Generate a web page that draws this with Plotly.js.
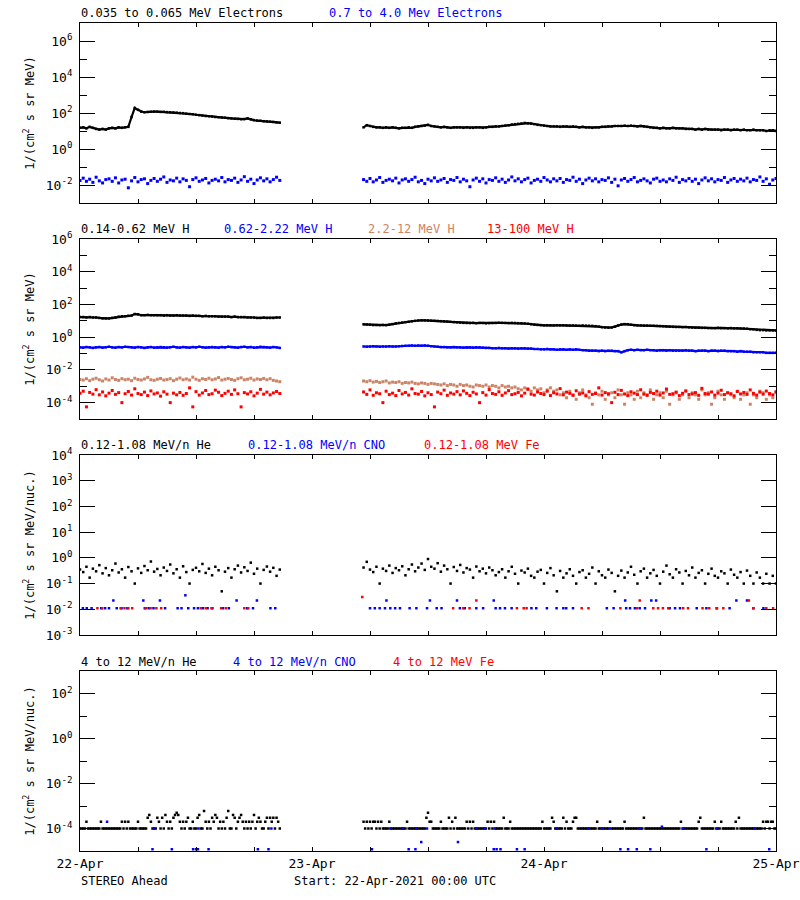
<!DOCTYPE html>
<html><head><meta charset="utf-8">
<script src="https://cdn.plot.ly/plotly-3.0.1.min.js"></script>
<style>html,body{margin:0;padding:0;background:#fff}</style>
</head><body><div id="chart" style="width:800px;height:900px"></div>
<script>
// ---- time sampling (hours since 22-Apr-2021 00:00 UTC) ----
const SEG1_START = 0;            // 22-Apr 00:00
const SEG2_START = 29 + 20/60;   // 23-Apr 05:20
const STEP = 20/60;              // 20-minute samples
const STEP_FINE = 10/60;         // 10-minute samples (panel 4 He)
const GAP_HOUR = 25;

// ---- Panel 1: electrons ----
const eLoSeg1 = [15,16,14,17,15,13,12,13,12,14,15,14,16,15,16,17,60,190,150,120,110,115,118,120,118,115,117,112,110,108,105,100,98,92,88,85,80,76,72,68,66,64,60,58,56,55,52,50,48,47,45,46,50,44,40,38,37,35,34,33,32,30,29];
const eLoSeg2 = [16,21,19,17,16,16,15,16,15,16,15,14,15,15,16,15,17,18,19,20,22,19,18,17,16,17,16,15,16,16,16,15,16,15,15,16,16,15,16,17,17,18,18,19,20,21,23,24,25,26,28,27,26,24,22,21,20,19,18,18,18,17,18,18,17,18,17,16,17,16,16,15,16,16,17,17,18,18,19,19,19,20,19,20,19,18,19,18,17,16,15,15,14,15,14,14,15,14,14,14,13,13,13,12,13,12,13,12,12,12,12,11,12,12,11,12,12,11,12,11,11,12,11,11,11,10,11,11,10];
const eHiSeg1 = [.018,.024,.016,.021,.014,.027,.017,.013,.02,.022,.016,.025,.013,.019,.021,.007,.017,.026,.015,.02,.022,.012,.018,.023,.016,.021,.028,.014,.019,.017,.024,.015,.022,.018,.008,.02,.025,.016,.019,.023,.013,.018,.021,.017,.026,.015,.02,.018,.024,.014,.019,.029,.016,.021,.012,.019,.025,.017,.022,.015,.02,.027,.018];
const eHiSeg2 = [.02,.016,.023,.015,.019,.026,.014,.018,.021,.017,.024,.013,.019,.022,.016,.02,.027,.015,.018,.012,.021,.017,.025,.016,.019,.023,.014,.02,.018,.026,.015,.021,.017,.008,.019,.024,.016,.022,.013,.02,.018,.025,.016,.021,.014,.019,.028,.017,.022,.015,.02,.024,.013,.018,.021,.016,.026,.019,.015,.022,.017,.023,.014,.02,.018,.027,.016,.021,.012,.019,.024,.017,.022,.015,.02,.018,.025,.014,.021,.009,.019,.023,.016,.02,.026,.015,.018,.022,.017,.013,.021,.024,.016,.019,.015,.022,.018,.027,.014,.02,.017,.023,.016,.021,.012,.019,.025,.017,.022,.015,.02,.018,.026,.014,.019,.023,.016,.021,.017,.024,.015,.02,.018,.028,.016,.022,.011,.019,.023];

// ---- Panel 2: protons ----
const hLoSeg1 = [17,17,16,17,16,16,15,14,14,14,15,16,18,19,19,20,21,26,25,22,22,23,22,22,22,22,21,22,21,21,22,21,21,21,20,21,20,20,19,20,19,19,19,18,18,18,18,17,18,17,17,17,16,16,16,15,15,16,15,15,15,16,16];
const hLoSeg2 = [6.1,6.0,5.8,5.5,5.5,5.4,5.6,5.5,5.8,6.3,7.0,7.4,7.8,8.3,8.8,9.4,10,10.5,10.8,10.6,10.5,10.2,10,9.8,9.5,9.3,9.0,8.7,8.4,8.1,7.8,7.5,7.4,7.3,7.5,7.2,7.4,7.3,7.0,7.2,7.3,7.4,7.6,7.5,7.4,7.3,7.5,7.4,7.2,7.1,6.9,6.6,6.2,5.8,5.6,5.5,5.3,5.4,5.3,5.2,5.4,5.3,5.3,5.2,5.1,5.2,5.1,5.0,5.2,5.1,5.0,4.9,4.7,4.4,4.1,3.9,3.8,3.9,4.4,5.2,5.9,6.3,6.2,5.8,5.5,5.3,5.2,5.1,5.1,5.0,5.0,4.9,4.8,4.7,4.5,4.4,4.3,4.2,4.2,4.1,4.2,4.0,3.9,3.8,3.8,3.7,3.7,3.6,3.6,3.6,3.7,3.6,3.6,3.5,3.6,3.5,3.5,3.4,3.4,3.3,3.1,3.0,2.8,2.7,2.7,2.6,2.6,2.6,2.6];
const hMidSeg1 = [.24,.23,.25,.24,.22,.24,.25,.23,.24,.26,.24,.23,.25,.24,.26,.25,.24,.23,.25,.24,.22,.24,.25,.23,.24,.25,.24,.23,.24,.26,.24,.23,.25,.24,.23,.25,.24,.26,.24,.23,.24,.25,.24,.23,.25,.24,.26,.25,.24,.23,.25,.26,.24,.25,.23,.24,.26,.25,.24,.23,.25,.24,.22];
const hMidSeg2 = [.27,.26,.27,.28,.27,.26,.27,.27,.28,.27,.27,.28,.29,.30,.30,.31,.30,.31,.30,.31,.30,.28,.27,.26,.25,.25,.24,.24,.25,.24,.24,.23,.24,.24,.23,.24,.24,.23,.22,.22,.21,.21,.22,.21,.21,.20,.21,.21,.20,.21,.21,.20,.20,.19,.19,.18,.18,.19,.18,.18,.17,.18,.18,.17,.18,.17,.18,.17,.16,.16,.15,.15,.15,.14,.15,.14,.15,.15,.14,.14,.12,.14,.16,.17,.16,.17,.16,.16,.17,.16,.16,.15,.16,.16,.15,.16,.15,.15,.15,.15,.16,.15,.15,.14,.15,.15,.15,.14,.15,.15,.14,.15,.15,.14,.14,.14,.13,.14,.13,.13,.13,.12,.12,.12,.12,.11,.11,.11,.11];
const hHiSeg1 = [.0026,.0024,.0029,.0022,.0027,.0031,.0025,.0021,.0028,.0024,.0033,.0026,.0023,.0029,.0025,.0027,.0022,.0031,.0026,.0024,.0028,.0035,.0025,.0023,.0027,.0030,.0024,.0026,.0029,.0022,.0027,.0032,.0025,.0028,.0024,.0036,.0027,.0023,.0029,.0026,.0031,.0025,.0028,.0034,.0024,.0027,.0030,.0026,.0023,.0029,.0033,.0025,.0027,.0031,.0024,.0028,.0026,.0030,.0025,.0029,.0023,.0021,.0019];
const hHiSeg2 = [.0021,.0019,.0022,.0018,.0020,.0017,.0019,.0021,.0016,.0018,.0017,.0019,.0015,.0017,.0016,.0018,.0015,.0014,.0016,.0015,.0013,.0015,.0014,.0013,
  .0012,.0014,.0011,.0013,.0012,.0010,.0013,.0011,.0012,.0010,.0009,.0012,.0011,.0010,.0012,.0009,.0011,.0010,.0008,.0011,.0009,.0010,
  .0008,.0009,.0007,.0006,.0008,.0007,.0005,.0008,.0006,.0007,.0004,.0006,.0008,.0005,.0006,.0003,
  .0004,.0002,.0005,.0003,.00016,.0004,.0006,.0003,.0002,.00008,.0004,.0003,.0005,.00016,.0003,.0004,.0002,.0006,.0003,.00008,.0004,.0003,.00016,.0005,.0002,.0004,.0003,.0006,.00016,.0003,.0004,.0002,.0005,.00008,.0003,.0004,.00016,.0003,.0005,.0002,.0004,.0003,.00016,.0006,.0003,.0004,.00008,.0002,.0005,.0003,.00016,.0004,.0003,.0002,.0005,.00016,.0003,.0004,.00008,.0003,.0002,.0005,.0004,.00016,.0003,.0002,.0004];
const hVHiSeg1 = [.00037,.0005,.000055,.00042,.00033,.00062,.0003,.00045,.00026,.00038,.00055,.00032,.00041,.0001,.00035,.00048,.00029,.0007,.00036,.00031,.00044,.00027,.00052,.00034,.00039,.00025,.00046,.00033,.0001,.00038,.0003,.00042,.00028,.00036,.0008,.000055,.00047,.00029,.00039,.00055,.00031,.00035,.00058,.00043,.00027,.00037,.0005,.00032,.0006,.00035,.000055,.00041,.00034,.00046,.00026,.00038,.00065,.00033,.00044,.0003,.00039,.00048,.00036];
const hVHiSeg2 = [.00045,.00032,.0006,.00028,.0004,.00035,.0001,.0005,.00031,.00038,.00027,.00055,.00034,.00042,.00029,.0007,.00036,.00033,.00048,.00026,.0004,.00031,.000055,.00044,.00035,.00058,.00028,.00039,.00033,.00047,.0003,.00052,.00037,.00027,.00043,.00034,.0001,.00041,.00029,.00062,.00036,.00032,.00046,.00028,.00039,.00054,.00031,.00035,.00042,.00026,.00038,.00065,.00033,.00029,.00045,.00036,.00031,.0005,.00027,.0004,.00034,.00072,.0003,.00044,.00037,.00028,.00053,.00033,.00039,.00026,.00047,.00032,.00036,.0008,.00029,.00041,.00035,.0001,.00043,.00031,.00056,.00034,.00027,.00046,.00038,.00031,.00061,.00033,.00028,.00042,.00036,.0005,.00029,.00039,.00068,.00032,.00035,.00044,.00027,.00037,.00052,.00031,.00034,.00041,.00028,.00075,.00036,.00033,.00045,.00029,.00038,.00057,.00031,.0004,.00035,.00026,.00048,.00034,.00042,.00032,.0006,.00037,.00029,.00044,.00033,.00051,.00036,.0003,.00046];

// ---- Panel 3: 0.12-1.08 MeV/n ions ----
const heLoSeg1 = [.35,.28,.45,.17,.38,.3,.52,.25,.4,.21,.33,.6,.27,.36,.17,.44,.3,.1,.39,.26,.48,.33,.72,.29,.37,.21,.42,.31,.55,.25,.36,.17,.47,.28,.1,.34,.41,.3,.58,.26,.38,.21,.45,.33,.05,.29,.4,.17,.36,.5,.27,.43,.31,.65,.24,.38,.1,.34,.46,.29,.41,.2,.35];
const heLoSeg2 = [.42,.7,.35,.28,.45,.1,.38,.31,.5,.26,.4,.33,.47,.21,.36,.55,.3,.42,.6,.34,.9,.45,.38,.62,.29,.5,.36,.1,.44,.31,.53,.27,.4,.35,.17,.46,.3,.38,.25,.42,.33,.21,.28,.36,.17,.3,.45,.24,.1,.32,.27,.38,.2,.17,.29,.34,.1,.26,.4,.21,.05,.31,.17,.25,.36,.2,.1,.28,.33,.17,.24,.42,.1,.3,.21,.17,.35,.26,.05,.2,.32,.17,.27,.45,.22,.1,.3,.38,.17,.25,.34,.2,.1,.29,.5,.23,.17,.36,.27,.1,.31,.21,.42,.17,.26,.33,.1,.24,.38,.2,.17,.3,.25,.1,.35,.22,.17,.28,.1,.32,.2,.1,.27,.17,.1,.24,.1,.2,.1];
const cnoLoHours = [0.3,0.7,1.2,2.2,2.6,3.0,3.45,3.8,4.3,4.9,6.55,6.7,7.1,7.6,8.27,8.8,10.1,10.5,10.9,11.2,11.8,12.2,12.7,13.2,13.7,14.8,15.4,16.2,17.3,17.9,18.3,19.7,20.2,
  30.0,30.5,31.0,31.55,31.7,32.1,32.6,33.1,34.1,34.8,35.9,36.2,36.9,37.4,39.0,39.3,39.8,41.0,41.7,42.8,43.0,43.45,43.96,44.65,46.7,47.2,48.3,49.3,50.0,50.3,51.0,54.5,55.2,56.4,56.5,56.9,57.4,57.9,58.45,59.1,59.6,61.0,61.56,62.07,63.8,64.8,65.86,67.2,67.9,69.0,69.66,70.7];
const cnoLoFlux = [.011,.011,.011,.011,.011,.011,.022,.011,.011,.011,.022,.011,.011,.011,.022,.011,.011,.011,.035,.011,.011,.011,.011,.011,.011,.011,.011,.022,.011,.011,.022,.011,.011,
  .011,.011,.011,.011,.022,.011,.011,.011,.011,.011,.011,.022,.011,.011,.022,.011,.011,.011,.011,.022,.011,.011,.011,.011,.011,.011,.011,.011,.011,.011,.011,.011,.011,.022,.011,.011,.011,.011,.011,.022,.022,.011,.011,.011,.011,.011,.011,.011,.022,.022,.011,.011];
const feLoHours = [1.8,2.3,4.2,4.6,5.0,5.4,6.8,7.3,7.9,8.4,12.5,13.0,13.6,14.6,15.1,17.0,17.4,
  29.2,38.6,39.65,40.3,41.0,45.2,45.9,46.2,51.9,52.6,55.9,57.6,57.9,59.3,59.8,60.3,60.86,62.4,62.9,64.4,65.1,65.9,66.55,69.2,69.66,71.0,71.7];
const feLoFlux = [.011,.011,.011,.011,.011,.011,.011,.011,.011,.011,.011,.011,.011,.011,.011,.011,.011,
  .03,.011,.011,.011,.022,.011,.011,.011,.011,.011,.011,.011,.022,.011,.011,.011,.011,.011,.011,.011,.011,.011,.011,.022,.011,.011,.011];

// ---- Panel 4: 4-12 MeV/n ions ----
const heHiSeg1 = [
  1e-4,1e-4,1e-4,1e-4,2e-4,1e-4,1e-4,1e-4,1e-4,1e-4,1e-4,1e-4,1e-4,2e-4,1e-4,1e-4,1e-4,1e-4,1e-4,1e-4,1e-4,1e-4,1e-4,1e-4,1e-4,
  1e-4,2e-4,1e-4,2e-4,1e-4,2e-4,1e-4,1e-4,1e-4,1e-4,1e-4,2e-4,1e-4,1e-4,1e-4,1e-4,1e-4,3e-4,4e-4,2e-4,1e-4,1e-4,1e-4,3e-4,2e-4,
  1e-4,3e-4,1e-4,4e-4,2e-4,1e-4,2e-4,1e-4,3e-4,4e-4,5e-4,4e-4,2e-4,1e-4,2e-4,1e-4,2e-4,3e-4,1e-4,1e-4,2e-4,1e-4,1e-4,3e-4,4e-4,
  1e-4,1e-4,6e-4,2e-4,1e-4,2e-4,1e-4,3e-4,2e-4,4e-4,3e-4,1e-4,2e-4,1e-4,2e-4,1e-4,3e-4,6e-4,1e-4,1e-4,4e-4,3e-4,1e-4,2e-4,3e-4,
  4e-4,2e-4,1e-4,2e-4,1e-4,2e-4,1e-4,2e-4,4e-4,1e-4,2e-4,3e-4,2e-4,1e-4,1e-4,2e-4,3e-4,1e-4,3e-4,2e-4,3e-4,1e-4,3e-4,2e-4,1e-4];
const heHiSeg2 = [
  2e-4,1e-4,2e-4,1e-4,2e-4,1e-4,2e-4,2e-4,1e-4,2e-4,1e-4,2e-4,1e-4,1e-4,1e-4,1e-4,2e-4,1e-4,1e-4,1e-4,1e-4,1e-4,1e-4,1e-4,1e-4,
  1e-4,1e-4,2e-4,1e-4,1e-4,1e-4,1e-4,1e-4,1e-4,1e-4,1e-4,1e-4,1e-4,1e-4,3e-4,5e-4,2e-4,2e-4,1e-4,1e-4,1e-4,1e-4,1e-4,2e-4,1e-4,
  1e-4,1e-4,1e-4,3e-4,1e-4,2e-4,1e-4,3e-4,1e-4,1e-4,1e-4,1e-4,1e-4,1e-4,2e-4,1e-4,2e-4,1e-4,2e-4,1e-4,1e-4,1e-4,1e-4,1e-4,1e-4,
  1e-4,1e-4,2e-4,1e-4,2e-4,1e-4,2e-4,1e-4,1e-4,1e-4,1e-4,1e-4,3e-4,1e-4,1e-4,1e-4,2e-4,1e-4,1e-4,1e-4,1e-4,1e-4,1e-4,1e-4,1e-4,
  1e-4,1e-4,1e-4,1e-4,1e-4,1e-4,1e-4,1e-4,1e-4,1e-4,1e-4,2e-4,1e-4,1e-4,1e-4,1e-4,1e-4,3e-4,2e-4,1e-4,1e-4,1e-4,1e-4,1e-4,3e-4,
  1e-4,2e-4,1e-4,1e-4,1e-4,2e-4,3e-4,3e-4,1e-4,1e-4,1e-4,1e-4,1e-4,1e-4,1e-4,1e-4,1e-4,1e-4,1e-4,1e-4,2e-4,1e-4,1e-4,1e-4,1e-4,
  1e-4,1e-4,1e-4,2e-4,1e-4,1e-4,1e-4,1e-4,1e-4,1e-4,1e-4,1e-4,2e-4,1e-4,1e-4,1e-4,1e-4,1e-4,1e-4,1e-4,1e-4,1e-4,1e-4,1e-4,3e-4,
  1e-4,1e-4,1e-4,1e-4,1e-4,1e-4,1e-4,1e-4,1e-4,1e-4,1e-4,1e-4,1e-4,1e-4,1e-4,1e-4,1e-4,1e-4,1e-4,1e-4,1e-4,1e-4,2e-4,1e-4,1e-4,
  1e-4,1e-4,1e-4,1e-4,1e-4,1e-4,1e-4,1e-4,2e-4,3e-4,1e-4,1e-4,1e-4,1e-4,1e-4,1e-4,1e-4,1e-4,2e-4,1e-4,1e-4,1e-4,2e-4,1e-4,1e-4,
  1e-4,1e-4,1e-4,1e-4,1e-4,1e-4,2e-4,1e-4,3e-4,1e-4,1e-4,1e-4,1e-4,1e-4,1e-4,1e-4,1e-4,1e-4,1e-4,1e-4,1e-4,1e-4,1e-4,2e-4,1e-4,
  2e-4,2e-4,1e-4,2e-4,2e-4,1e-4,1e-4];
const cnoHiHours = [2.8,7.5,7.65,9.5,11.7,12.0,12.2,12.25,13.3,18.4,19.5,19.8,
  30.2,32.1,33.4,34.0,34.7,34.8,35.3,35.9,39.1,41.0,41.9,42.8,42.9,43.1,43.5,45.2,46.0,49.3,52.6,54.0,54.8,55.9,56.7,57.6,57.9,59.0,60.2,62.4,64.8,65.9,69.8,71.3];
const cnoHiFlux = [2e-4,1.2e-5,1e-4,1.2e-5,1.2e-5,1.2e-5,1.2e-5,1e-4,1.2e-5,1.2e-5,1.2e-5,1e-4,
  1.2e-5,1e-4,1e-4,1.2e-5,1.2e-5,1e-4,2.5e-5,1e-4,2.5e-5,1e-4,1e-4,1.2e-5,1e-4,1.2e-5,1.2e-5,1.2e-5,1.2e-5,1e-4,1e-4,1e-4,1e-4,1.2e-5,1.2e-5,1.2e-5,1e-4,1.2e-5,1.2e-4,1e-4,1.2e-5,1e-4,1e-4,1.2e-5];
const feHiHours = [];   // no Fe counts above threshold
const feHiFlux = [];

// ---- labels ----
const dayTickHours = [0,24,48,72];
const dayTickText = ['22-Apr','23-Apr','24-Apr','25-Apr'];

// ---- build ----
function joinSegs(v1, v2, step) {
  const x = [], y = [];
  v1.forEach((v, i) => { x.push(SEG1_START + i * step); y.push(v); });
  x.push(GAP_HOUR); y.push(null);
  v2.forEach((v, i) => { x.push(SEG2_START + i * step); y.push(v); });
  return {x, y};
}
const MONO = 'DejaVu Sans Mono, monospace';
const BLUE = '#0000ff', RED = '#ff0000', BROWN = '#cd8466', BLACK = '#000000';

function dots(x, y, color, n, size) {
  return {type:'scatter', mode:'markers', x, y, xaxis:'x'+(n>1?n:''), yaxis:'y'+(n>1?n:''),
    marker:{symbol:'square', size:size||3, color, line:{width:0}}, hoverinfo:'skip'};
}
function trail(x, y, color, n) {
  return {type:'scatter', mode:'lines+markers', x, y, xaxis:'x'+(n>1?n:''), yaxis:'y'+(n>1?n:''),
    line:{color, width:2.2}, marker:{symbol:'square', size:2.5, color, line:{width:0}}, hoverinfo:'skip'};
}

const eLo = joinSegs(eLoSeg1, eLoSeg2, STEP), eHi = joinSegs(eHiSeg1, eHiSeg2, STEP);
const hLo = joinSegs(hLoSeg1, hLoSeg2, STEP), hMid = joinSegs(hMidSeg1, hMidSeg2, STEP);
const hHi = joinSegs(hHiSeg1, hHiSeg2, STEP), hVHi = joinSegs(hVHiSeg1, hVHiSeg2, STEP);
const heLo = joinSegs(heLoSeg1, heLoSeg2, STEP), heHi = joinSegs(heHiSeg1, heHiSeg2, STEP_FINE);

const traces = [
  trail(eLo.x, eLo.y, BLACK, 1),
  dots(eHi.x, eHi.y, BLUE, 1, 3),
  trail(hLo.x, hLo.y, BLACK, 2),
  trail(hMid.x, hMid.y, BLUE, 2),
  dots(hHi.x, hHi.y, BROWN, 2, 3),
  dots(hVHi.x, hVHi.y, RED, 2, 3),
  dots(heLo.x, heLo.y, BLACK, 3, 2.5),
  dots(cnoLoHours, cnoLoFlux, BLUE, 3, 2.5),
  dots(feLoHours, feLoFlux, RED, 3, 2.5),
  dots(heHi.x, heHi.y, BLACK, 4, 2.5),
  dots(cnoHiHours, cnoHiFlux, BLUE, 4, 2.5),
  dots(feHiHours, feHiFlux, RED, 4, 2.5)
];

function xAxis(n, showLabels) {
  return {range:[0,72], tickmode:'array', tickvals:dayTickHours, ticktext:dayTickText,
    ticks:'inside', ticklen:4, tickwidth:1, tickcolor:'black',
    minor:{tickmode:'linear', tick0:0, dtick:6, ticks:'inside', ticklen:4, tickwidth:1, tickcolor:'black', showgrid:false},
    showline:true, linecolor:'black', linewidth:1,
    mirror:'ticks', showgrid:false, zeroline:false, showticklabels:showLabels,
    tickfont:{family:MONO, size:13, color:'black'}, anchor:'y'+(n>1?n:''), fixedrange:true};
}
function sup(e) { return '10<sup>' + e + '</sup>'; }
function yAxis(domain, range, majors, minors, title) {
  const ax = {type:'log', domain, range, tickmode:'array',
    tickvals: majors.map(e => Math.pow(10, e)), ticktext: majors.map(sup),
    ticks:'inside', ticklen:15, tickwidth:1, tickcolor:'black',
    showline:true, linecolor:'black', linewidth:1, mirror:'ticks', showgrid:false, zeroline:false,
    tickfont:{family:MONO, size:13, color:'black'}, ticklabelstandoff:4,
    title:{text:title, font:{family:MONO, size:12, color:'black'}, standoff:8}, fixedrange:true};
  if (minors.length) ax.minor = {tickmode:'array', tickvals: minors.map(e => Math.pow(10, e)), ticks:'inside', ticklen:7, tickwidth:1, tickcolor:'black', showgrid:false};
  return ax;
}
const T1 = '1/(cm<sup>2</sup> s sr MeV)', T2 = '1/(cm<sup>2</sup> s sr MeV/nuc.)';

function hdr(px, py, text, color) {
  return {xref:'paper', yref:'paper', x:(px-2-80)/696, y:(851-py)/828, xanchor:'left', yanchor:'middle',
    text, showarrow:false, font:{family:MONO, size:12, color}};
}

const layout = {
  width:800, height:900, margin:{l:80, r:24, t:23, b:49, autoexpand:false},
  paper_bgcolor:'white', plot_bgcolor:'white', showlegend:false,
  font:{family:MONO, size:12, color:'black'},
  xaxis: xAxis(1, false), xaxis2: xAxis(2, false), xaxis3: xAxis(3, false), xaxis4: xAxis(4, true),
  yaxis: yAxis([0.78261, 1], [-3, 7], [-2,0,2,4,6], [-1,1,3,5], T1),
  yaxis2: yAxis([0.52174, 0.73913], [-5, 6], [-4,-2,0,2,4,6], [-5,-3,-1,1,3,5], T1),
  yaxis3: yAxis([0.26087, 0.47826], [-3, 4], [-3,-2,-1,0,1,2,3,4], [], T2),
  yaxis4: yAxis([0, 0.21739], [-5, 3], [-4,-2,0,2], [-3,-1,1], T2),
  annotations: [
    hdr(81, 13, '0.035 to 0.065 MeV Electrons', BLACK),
    hdr(329, 13, '0.7 to 4.0 Mev Electrons', BLUE),
    hdr(81, 229, '0.14-0.62 MeV H', BLACK),
    hdr(224, 229, '0.62-2.22 MeV H', BLUE),
    hdr(368, 229, '2.2-12 MeV H', BROWN),
    hdr(487, 229, '13-100 MeV H', RED),
    hdr(81, 445, '0.12-1.08 MeV/n He', BLACK),
    hdr(248, 445, '0.12-1.08 MeV/n CNO', BLUE),
    hdr(424, 445, '0.12-1.08 MeV Fe', RED),
    hdr(81, 662, '4 to 12 MeV/n He', BLACK),
    hdr(233, 662, '4 to 12 MeV/n CNO', BLUE),
    hdr(393, 662, '4 to 12 MeV Fe', RED),
    hdr(81, 881, 'STEREO Ahead', BLACK),
    hdr(294, 881, 'Start: 22-Apr-2021 00:00 UTC', BLACK)
  ]
};

Plotly.newPlot('chart', traces, layout, {staticPlot:true, displayModeBar:false});
</script></body></html>
